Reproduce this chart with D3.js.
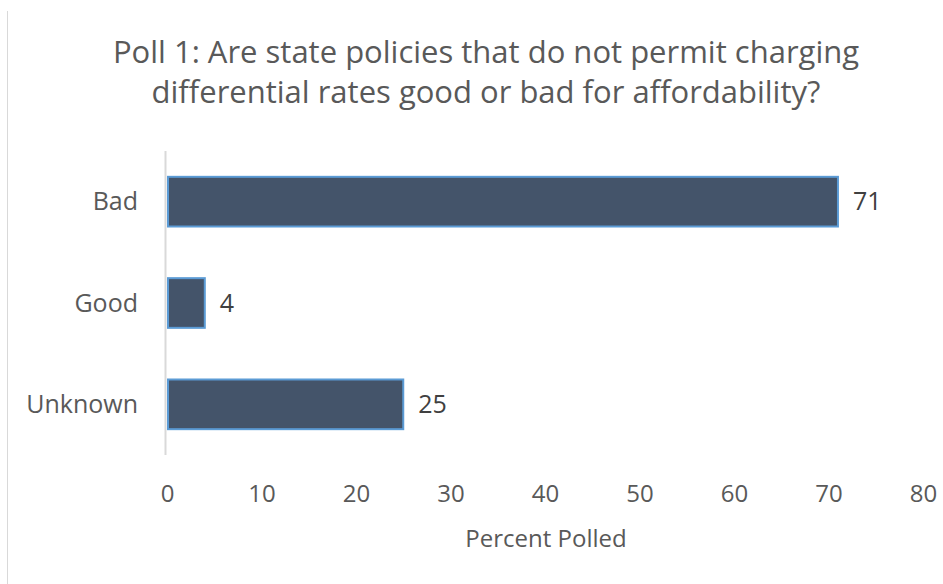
<html>
  <head>
    <meta charset="utf-8" />
    <script src="https://d3js.org/d3.v7.min.js"></script>
    <style>
      body { margin: 0; background: #fff; }
      text { font-family: "Open Sans", "Noto Sans", sans-serif; fill: #595959; }
    </style>
  </head>
  <body>
    <div id="chart"></div>
    <script>
      var categories = ["Bad", "Good", "Unknown"];
      var values = [71, 4, 25];
      var xTicks = [0, 10, 20, 30, 40, 50, 60, 70, 80];
      var titleLines = ["Poll 1: Are state policies that do not permit charging",
                        "differential rates good or bad for affordability?"];
      var axisTitle = "Percent Polled";

      var width = 943, height = 584;
      var svg = d3.select("#chart").append("svg")
          .attr("width", width)
          .attr("height", height);

      // thin frame line on the left
      svg.append("line")
          .attr("x1", 7.5).attr("x2", 7.5)
          .attr("y1", 11).attr("y2", height)
          .style("stroke", "#d9d9d9").style("stroke-width", 1);

      var x = d3.scaleLinear().domain([0, 80]).range([167, 923]);
      var y = d3.scaleBand().domain(categories).range([151, 455])
          .paddingInner(0.49).paddingOuter(0.245);

      svg.selectAll(".title")
          .data(titleLines)
          .enter().append("text")
          .attr("x", 486)
          .attr("y", function(d, i) { return 63 + i * 40; })
          .attr("text-anchor", "middle")
          .style("font-size", "31px")
          .text(function(d) { return d; });

      // vertical axis line
      svg.append("line")
          .attr("x1", 165.5).attr("x2", 165.5)
          .attr("y1", 151).attr("y2", 455)
          .style("stroke", "#d9d9d9").style("stroke-width", 2);

      svg.selectAll(".bar")
          .data(values)
          .enter().append("rect")
          .attr("x", x(0) + 1)
          .attr("y", function(d, i) { return y(categories[i]) + 1; })
          .attr("width", function(d) { return x(d) - x(0) - 1; })
          .attr("height", y.bandwidth() - 2)
          .style("fill", "#44546a")
          .style("stroke", "#5b9bd5")
          .style("stroke-width", 2);

      svg.selectAll(".val")
          .data(values)
          .enter().append("text")
          .attr("x", function(d) { return x(d) + 15; })
          .attr("y", function(d, i) { return y(categories[i]) + y.bandwidth() / 2; })
          .attr("dy", "0.35em")
          .style("font-size", "25px")
          .style("fill", "#404040")
          .text(function(d) { return d; });

      svg.selectAll(".cat")
          .data(categories)
          .enter().append("text")
          .attr("x", 138)
          .attr("y", function(d) { return y(d) + y.bandwidth() / 2; })
          .attr("dy", "0.35em")
          .attr("text-anchor", "end")
          .style("font-size", "25px")
          .text(function(d) { return d; });

      var xAxis = d3.axisBottom(x).tickValues(xTicks).tickSize(0).tickPadding(0);
      var gx = svg.append("g")
          .attr("transform", "translate(0,494)")
          .call(xAxis);
      gx.select(".domain").remove();
      gx.selectAll("text")
          .attr("y", 0)
          .attr("dy", "0.35em")
          .style("font-family", "'Open Sans', sans-serif")
          .style("font-size", "24px")
          .style("fill", "#595959");

      svg.append("text")
          .attr("x", 546)
          .attr("y", 547)
          .attr("text-anchor", "middle")
          .style("font-size", "24px")
          .text(axisTitle);
    </script>
  </body>
</html>
